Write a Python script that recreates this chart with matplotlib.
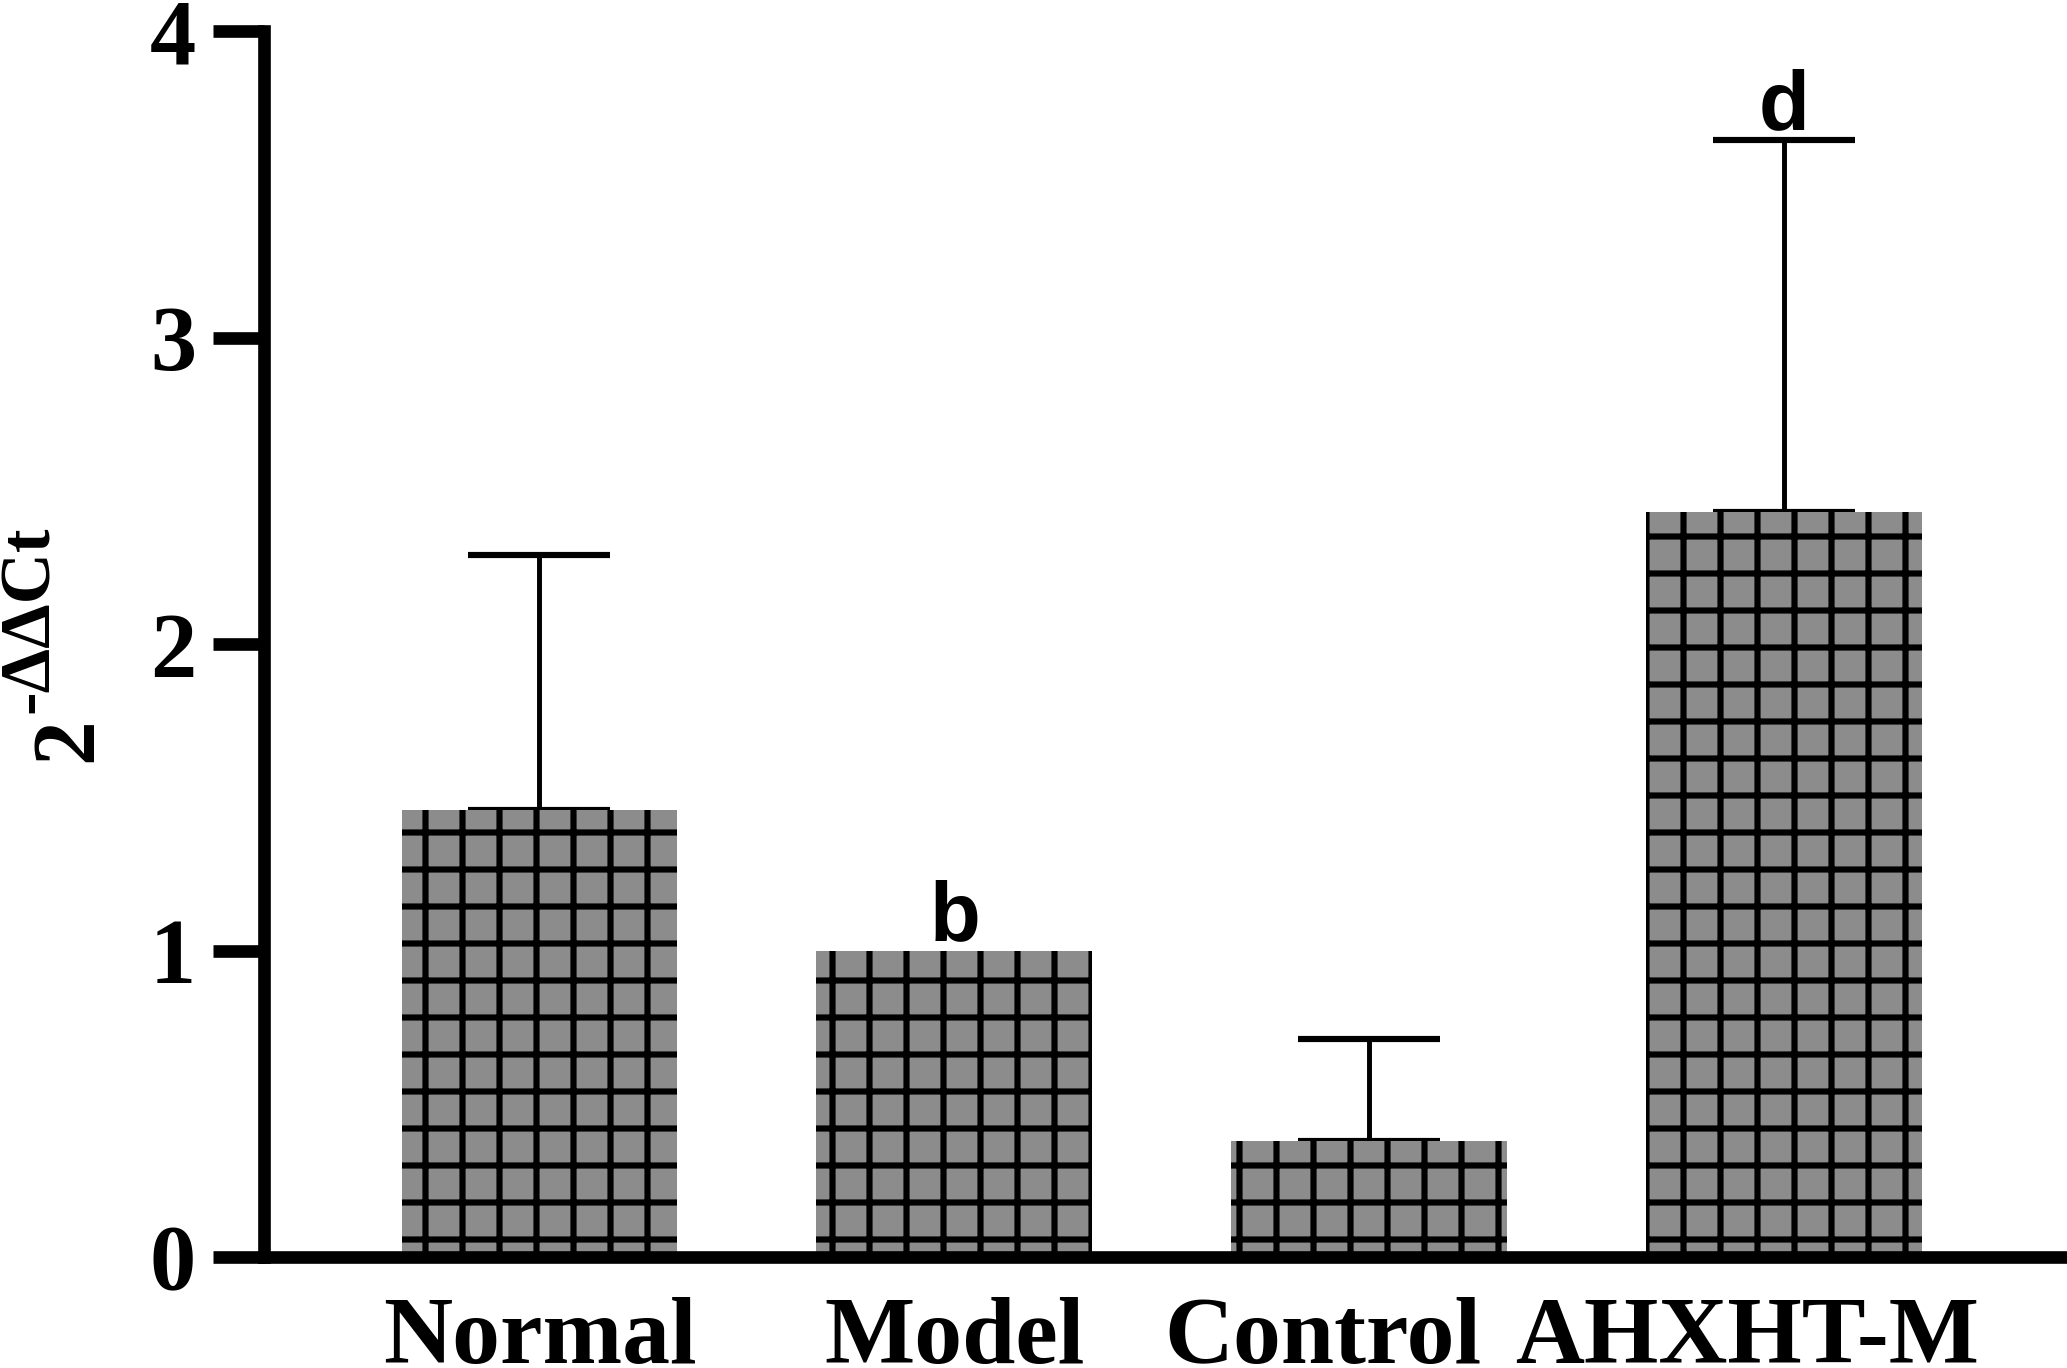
import matplotlib

matplotlib.use("Agg")
import matplotlib.pyplot as plt
from matplotlib.transforms import ScaledTranslation

# qPCR relative expression
groups = ["Normal", "Model", "Control", "AHXHT-M"]
means = [1.46, 1.0, 0.38, 2.43]
sems = [0.83, 0.0, 0.33, 1.215]
letters = ["", "b", "", "d"]

DPI = 222  # 6 hatch lines per inch -> ~37 px grid cells
plt.rcParams["hatch.linewidth"] = 2.0
plt.rcParams["hatch.color"] = "black"

fig = plt.figure(figsize=(2067 / DPI, 1368 / DPI), dpi=DPI)
ax = fig.add_axes([0.1277, 0.0811, 0.8723, 0.8962])

x = list(range(len(groups)))
ax.bar(x, means, width=0.665, color="#8c8c8c", edgecolor="black",
       linewidth=0, hatch="+", zorder=2)

# only upper error bars, and none for the reference group
for xi, m, s in zip(x, means, sems):
    if s <= 0:
        continue
    ax.errorbar(xi, m, yerr=[[0], [s]], fmt="none", ecolor="black",
                elinewidth=1.6, capsize=23, capthick=2.0, zorder=1)

for xi, m, s, lab in zip(x, means, sems, letters):
    if not lab:
        continue
    ax.annotate(lab, (xi, m + s), xytext=(0, 3.5), textcoords="offset points",
                ha="center", va="baseline", fontsize=27, fontweight="bold",
                family="Liberation Sans")

ax.set_xlim(-0.664, 3.681)
ax.set_ylim(0, 4)
ax.set_yticks([0, 1, 2, 3, 4])
ax.set_xticks(x)
ax.set_xticklabels(groups)

for side in ("top", "right"):
    ax.spines[side].set_visible(False)
for side in ("left", "bottom"):
    ax.spines[side].set_linewidth(4.1)

ax.tick_params(axis="y", length=16.5, width=4.1, pad=5.5)
ax.tick_params(axis="x", length=0, pad=13)
for lbl in ax.get_yticklabels():
    lbl.set_fontfamily("Liberation Serif")
    lbl.set_fontweight("bold")
    lbl.set_fontsize(30)

# the last two group names sit a bit left of their bars in the original
label_shift = [0, 0, -0.21, -0.17]  # inches
for lbl, dx in zip(ax.get_xticklabels(), label_shift):
    lbl.set_fontfamily("Liberation Serif")
    lbl.set_fontweight("bold")
    lbl.set_fontsize(31)
    lbl.set_transform(lbl.get_transform() + ScaledTranslation(dx, 0, fig.dpi_scale_trans))

# y label 2^-ΔΔCt built from two rotated texts (hyphen, not a math minus)
ylab = dict(rotation=90, rotation_mode="anchor", ha="left", va="baseline",
            family="Liberation Serif", fontweight="bold")
fig.text(0.0435, 0.443, "2", fontsize=29, **ylab)
fig.text(0.0232, 0.4788, "-ΔΔCt", fontsize=23, **ylab)

fig.savefig("out.png", dpi=DPI)
